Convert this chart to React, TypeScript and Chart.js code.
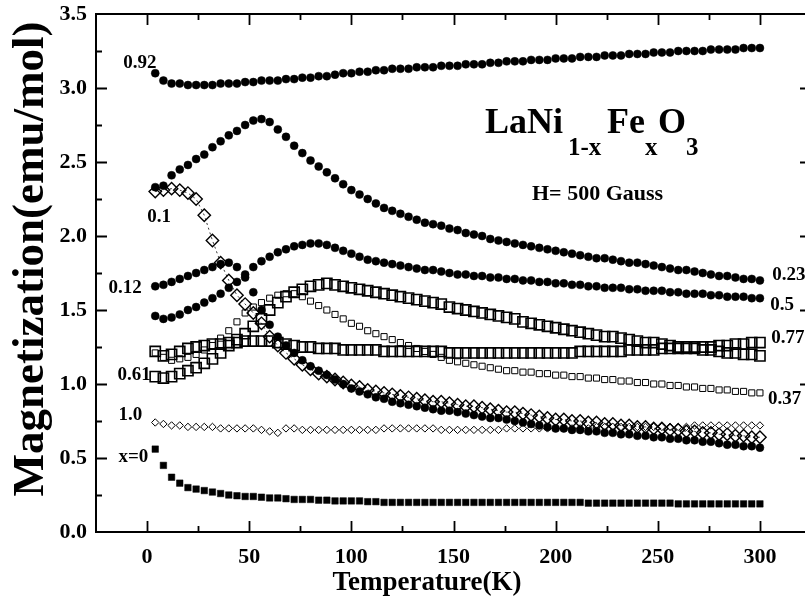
import React, { useEffect, useRef } from "react";
import { Chart, registerables } from "chart.js";

Chart.register(...registerables);

// Temperature (K) at which each series is read
const TEMPS = [
  4, 8, 12, 16, 20, 24, 28, 32, 36, 40,
  44, 48, 52, 56, 60, 64, 68, 72, 76, 80,
  84, 88, 92, 96, 100, 104, 108, 112, 116, 120,
  124, 128, 132, 136, 140, 144, 148, 152, 156, 160,
  164, 168, 172, 176, 180, 184, 188, 192, 196, 200,
  204, 208, 212, 216, 220, 224, 228, 232, 236, 240,
  244, 248, 252, 256, 260, 264, 268, 272, 276, 280,
  284, 288, 292, 296, 300,
];

// Magnetization (emu/mol) for each composition x
const M_X092 = [
  3.10, 3.05, 3.03, 3.03, 3.02, 3.02, 3.02, 3.02, 3.03, 3.03,
  3.03, 3.04, 3.04, 3.05, 3.05, 3.05, 3.06, 3.06, 3.07, 3.07,
  3.08, 3.08, 3.09, 3.10, 3.10, 3.11, 3.11, 3.12, 3.12, 3.13,
  3.13, 3.13, 3.14, 3.14, 3.14, 3.15, 3.15, 3.15, 3.16, 3.16,
  3.16, 3.17, 3.17, 3.18, 3.18, 3.18, 3.19, 3.19, 3.19, 3.20,
  3.20, 3.20, 3.21, 3.21, 3.21, 3.22, 3.22, 3.22, 3.23, 3.23,
  3.23, 3.24, 3.24, 3.24, 3.25, 3.25, 3.25, 3.25, 3.26, 3.26,
  3.26, 3.26, 3.27, 3.27, 3.27,
];
const M_X023 = [
  2.33, 2.34, 2.41, 2.45, 2.48, 2.52, 2.55, 2.60, 2.64, 2.68,
  2.71, 2.75, 2.78, 2.79, 2.77, 2.72, 2.67, 2.61, 2.56, 2.51,
  2.47, 2.43, 2.39, 2.35, 2.31, 2.28, 2.25, 2.22, 2.19, 2.17,
  2.15, 2.13, 2.11, 2.09, 2.08, 2.07, 2.05, 2.04, 2.02, 2.01,
  2.00, 1.98, 1.97, 1.96, 1.95, 1.94, 1.93, 1.92, 1.91, 1.90,
  1.89, 1.88, 1.87, 1.86, 1.85, 1.85, 1.84, 1.83, 1.82, 1.82,
  1.81, 1.80, 1.79, 1.78, 1.77, 1.77, 1.76, 1.75, 1.74, 1.73,
  1.73, 1.72, 1.71, 1.71, 1.70,
];
const M_X05 = [
  1.46, 1.44, 1.45, 1.47, 1.50, 1.52, 1.55, 1.58, 1.61, 1.65,
  1.69, 1.74, 1.79, 1.83, 1.86, 1.89, 1.91, 1.93, 1.94, 1.95,
  1.95, 1.94, 1.92, 1.90, 1.88, 1.86, 1.84, 1.83, 1.82, 1.81,
  1.80, 1.79, 1.78, 1.77, 1.77, 1.76, 1.75, 1.74, 1.74, 1.73,
  1.73, 1.72, 1.72, 1.71, 1.71, 1.70, 1.70, 1.69, 1.69, 1.68,
  1.68, 1.67, 1.67, 1.66, 1.66, 1.65, 1.65, 1.65, 1.64, 1.64,
  1.63, 1.63, 1.63, 1.62, 1.62, 1.61, 1.61, 1.61, 1.60, 1.60,
  1.59, 1.59, 1.59, 1.58, 1.58,
];
const M_X012 = [
  1.66, 1.67, 1.69, 1.71, 1.73, 1.75, 1.77, 1.79, 1.81, 1.82,
  1.79, 1.72, 1.62, 1.50, 1.40, 1.32, 1.26, 1.21, 1.16, 1.12,
  1.09, 1.06, 1.03, 1.00, 0.97, 0.95, 0.93, 0.91, 0.90, 0.88,
  0.87, 0.86, 0.85, 0.84, 0.83, 0.82, 0.82, 0.81, 0.80, 0.79,
  0.78, 0.77, 0.77, 0.76, 0.75, 0.74, 0.73, 0.72, 0.71, 0.70,
  0.70, 0.69, 0.69, 0.68, 0.68, 0.67, 0.67, 0.66, 0.66, 0.65,
  0.65, 0.64, 0.64, 0.63, 0.63, 0.62, 0.62, 0.61, 0.61, 0.60,
  0.59, 0.59, 0.58, 0.58, 0.57,
];
const M_X01 = [
  2.30, 2.31, 2.32, 2.31, 2.29, 2.25, 2.14, 1.97, 1.82, 1.70,
  1.60, 1.54, 1.48, 1.41, 1.32, 1.26, 1.21, 1.17, 1.13, 1.10,
  1.07, 1.05, 1.03, 1.01, 0.99, 0.98, 0.96, 0.95, 0.94, 0.93,
  0.92, 0.91, 0.90, 0.89, 0.88, 0.88, 0.87, 0.86, 0.85, 0.85,
  0.84, 0.83, 0.82, 0.81, 0.81, 0.80, 0.79, 0.78, 0.77, 0.76,
  0.76, 0.75, 0.75, 0.74, 0.74, 0.73, 0.73, 0.72, 0.72, 0.71,
  0.71, 0.70, 0.70, 0.69, 0.69, 0.68, 0.68, 0.67, 0.67, 0.66,
  0.66, 0.65, 0.65, 0.64, 0.64,
];
const M_X10 = [
  0.74, 0.73, 0.72, 0.72, 0.71, 0.71, 0.71, 0.71, 0.70, 0.70,
  0.70, 0.70, 0.70, 0.69, 0.68, 0.67, 0.70, 0.70, 0.69, 0.69,
  0.69, 0.69, 0.69, 0.69, 0.69, 0.69, 0.69, 0.69, 0.70, 0.70,
  0.70, 0.70, 0.70, 0.70, 0.70, 0.69, 0.69, 0.69, 0.69, 0.69,
  0.69, 0.69, 0.69, 0.70, 0.70, 0.70, 0.70, 0.70, 0.70, 0.70,
  0.70, 0.70, 0.70, 0.70, 0.71, 0.71, 0.71, 0.71, 0.71, 0.71,
  0.71, 0.71, 0.71, 0.71, 0.71, 0.71, 0.72, 0.72, 0.72, 0.72,
  0.72, 0.72, 0.72, 0.72, 0.72,
];
const M_X061 = [
  1.05, 1.04, 1.05, 1.07, 1.09, 1.11, 1.14, 1.17, 1.21, 1.26,
  1.30, 1.34, 1.39, 1.44, 1.50, 1.55, 1.59, 1.62, 1.64, 1.66,
  1.67, 1.68, 1.67, 1.66, 1.65, 1.64, 1.63, 1.62, 1.61, 1.60,
  1.59, 1.58, 1.57, 1.56, 1.55, 1.54, 1.52, 1.51, 1.50, 1.49,
  1.48, 1.47, 1.46, 1.45, 1.44, 1.42, 1.41, 1.40, 1.39, 1.38,
  1.37, 1.36, 1.35, 1.34, 1.33, 1.32, 1.32, 1.31, 1.30, 1.29,
  1.28, 1.28, 1.27, 1.26, 1.25, 1.25, 1.24, 1.23, 1.23, 1.22,
  1.21, 1.21, 1.20, 1.20, 1.19,
];
const M_X077 = [
  1.22, 1.19, 1.20, 1.22, 1.24, 1.25, 1.26, 1.27, 1.27, 1.28,
  1.28, 1.29, 1.29, 1.29, 1.29, 1.28, 1.27, 1.26, 1.25, 1.25,
  1.24, 1.24, 1.24, 1.23, 1.23, 1.23, 1.23, 1.23, 1.22, 1.22,
  1.22, 1.22, 1.22, 1.22, 1.22, 1.22, 1.21, 1.21, 1.21, 1.21,
  1.21, 1.21, 1.21, 1.21, 1.21, 1.21, 1.21, 1.21, 1.21, 1.21,
  1.21, 1.21, 1.22, 1.22, 1.22, 1.22, 1.22, 1.22, 1.23, 1.23,
  1.23, 1.23, 1.24, 1.24, 1.24, 1.24, 1.25, 1.25, 1.25, 1.26,
  1.26, 1.27, 1.27, 1.28, 1.28,
];
const M_X037 = [
  1.21, 1.18, 1.16, 1.17, 1.18, 1.20, 1.23, 1.26, 1.31, 1.36,
  1.42, 1.48, 1.52, 1.55, 1.58, 1.60, 1.61, 1.61, 1.59, 1.56,
  1.53, 1.50, 1.47, 1.44, 1.41, 1.39, 1.36, 1.34, 1.32, 1.30,
  1.28, 1.26, 1.24, 1.22, 1.20, 1.18, 1.16, 1.15, 1.14, 1.13,
  1.12, 1.11, 1.10, 1.09, 1.09, 1.08, 1.08, 1.07, 1.07, 1.06,
  1.06, 1.05, 1.05, 1.04, 1.04, 1.03, 1.03, 1.02, 1.02, 1.01,
  1.01, 1.00, 1.00, 0.99, 0.99, 0.98, 0.98, 0.97, 0.97, 0.96,
  0.96, 0.95, 0.95, 0.94, 0.94,
];
const M_X0 = [
  0.56, 0.45, 0.37, 0.33, 0.30, 0.29, 0.28, 0.27, 0.26, 0.25,
  0.245, 0.24, 0.24, 0.235, 0.23, 0.23, 0.225, 0.22, 0.22, 0.22,
  0.215, 0.215, 0.21, 0.21, 0.21, 0.21, 0.205, 0.205, 0.20, 0.20,
  0.20, 0.20, 0.20, 0.20, 0.20, 0.20, 0.20, 0.20, 0.20, 0.20,
  0.20, 0.20, 0.20, 0.20, 0.20, 0.20, 0.20, 0.20, 0.20, 0.20,
  0.20, 0.20, 0.20, 0.195, 0.195, 0.195, 0.195, 0.195, 0.195, 0.195,
  0.195, 0.195, 0.195, 0.195, 0.19, 0.19, 0.19, 0.19, 0.19, 0.19,
  0.19, 0.19, 0.19, 0.19, 0.19,
];

const X_TICKS = [0, 50, 100, 150, 200, 250, 300];
const Y_TICKS = [0, 0.5, 1.0, 1.5, 2.0, 2.5, 3.0, 3.5];

// Curve labels: [text, temperature, magnetization]
const CURVE_LABELS: [string, number, number][] = [
  ["0.92", -11.6, 3.17],
  ["0.1", 0.1, 2.13],
  ["0.12", -18.9, 1.65],
  ["0.61", -14.5, 1.06],
  ["1.0", -14, 0.79],
  ["x=0", -14, 0.505],
  ["0.23", 306, 1.735],
  ["0.5", 305, 1.53],
  ["0.77", 305.5, 1.31],
  ["0.37", 304, 0.895],
];

const SERIF = '"Liberation Serif", "Times New Roman", Times, serif';

export default function App() {
  const ref = useRef<HTMLCanvasElement>(null);

  useEffect(() => {
    const canvas = ref.current;
    if (!canvas) return;
    const pts = (vals: number[]) => TEMPS.map((t, i) => ({ x: t, y: vals[i] }));

    const filledCircle = { pointStyle: "circle", pointRadius: 4, pointBackgroundColor: "#000", pointBorderColor: "#000", pointBorderWidth: 0.5 };
    const openBigSquare = { pointStyle: "rect", pointRadius: 7.2, pointBackgroundColor: "rgba(0,0,0,0)", pointBorderColor: "#000", pointBorderWidth: 1.6 };
    const openSmallSquare = { pointStyle: "rect", pointRadius: 4.3, pointBackgroundColor: "rgba(0,0,0,0)", pointBorderColor: "#000", pointBorderWidth: 1 };
    const openBigDiamond = { pointStyle: "rectRot", pointRadius: 6.2, pointBackgroundColor: "rgba(0,0,0,0)", pointBorderColor: "#000", pointBorderWidth: 1.4 };
    const openSmallDiamond = { pointStyle: "rectRot", pointRadius: 3.7, pointBackgroundColor: "rgba(0,0,0,0)", pointBorderColor: "#000", pointBorderWidth: 1 };
    const filledSquare = { pointStyle: "rect", pointRadius: 4.6, pointBackgroundColor: "#000", pointBorderColor: "#000", pointBorderWidth: 0.5 };

    const zeroPad = (s: any) => {
      s.paddingTop = 0; s.paddingBottom = 0; s.paddingLeft = 0; s.paddingRight = 0;
    };

    const frame = {
      id: "frame",
      afterDatasetsDraw(chart: any) {
        const { ctx, chartArea: a, scales } = chart;
        const xs = scales.x, ys = scales.y;
        ctx.save();
        ctx.strokeStyle = "#000";
        ctx.lineWidth = 2;
        ctx.beginPath();
        ctx.rect(a.left, a.top, a.right - a.left, a.bottom - a.top);
        ctx.stroke();
        ctx.lineWidth = 1.8;
        ctx.beginPath();
        for (let v = 0; v <= 300; v += 25) {
          const px = Math.round(xs.getPixelForValue(v)) + 0.5;
          const len = v % 50 === 0 ? 11 : 6;
          ctx.moveTo(px, a.bottom); ctx.lineTo(px, a.bottom - len);
          ctx.moveTo(px, a.top); ctx.lineTo(px, a.top + len);
        }
        for (let k = 1; k <= 13; k++) {
          const v = k * 0.25;
          const py = Math.round(ys.getPixelForValue(v)) + 0.5;
          const len = k % 2 === 0 ? 11 : 6;
          ctx.moveTo(a.left, py); ctx.lineTo(a.left + len, py);
          ctx.moveTo(a.right, py); ctx.lineTo(a.right - len, py);
        }
        ctx.stroke();

        ctx.fillStyle = "#000";
        ctx.font = `bold 19px ${SERIF}`;
        ctx.textBaseline = "middle";
        ctx.textAlign = "left";
        for (const [txt, t, m] of CURVE_LABELS) {
          ctx.fillText(txt, xs.getPixelForValue(t), ys.getPixelForValue(m));
        }

        // formula title
        ctx.textBaseline = "alphabetic";
        const big = `bold 36px ${SERIF}`;
        const sub = `bold 25px ${SERIF}`;
        ctx.font = big; ctx.fillText("LaNi", 485, 133);
        ctx.font = sub; ctx.fillText("1-x", 568, 155);
        ctx.font = big; ctx.fillText("Fe", 607, 133);
        ctx.font = sub; ctx.fillText("x", 645, 155);
        ctx.font = big; ctx.fillText("O", 658, 133);
        ctx.font = sub; ctx.fillText("3", 686, 155);
        ctx.font = `bold 22px ${SERIF}`;
        ctx.fillText("H= 500 Gauss", 532, 200);

        // axis titles
        ctx.font = `bold 27px ${SERIF}`;
        ctx.textAlign = "center";
        ctx.fillText("Temperature(K)", 427, 590);
        ctx.save();
        ctx.translate(43, 259);
        ctx.rotate(-Math.PI / 2);
        ctx.font = `bold 45px ${SERIF}`;
        ctx.fillText("Magnetization(emu/mol)", 0, 0);
        ctx.restore();
        ctx.restore();
      },
    };

    const chart = new Chart(canvas, {
      type: "scatter",
      data: {
        datasets: [
          { label: "0.1", data: pts(M_X01), ...openBigDiamond, showLine: true, borderColor: "#000", borderWidth: 0.8, borderDash: [2, 3] },
          { label: "0.12", data: pts(M_X012), ...filledCircle },
          { label: "0.61", data: pts(M_X061), ...openBigSquare },
          { label: "0.77", data: pts(M_X077), ...openBigSquare },
          { label: "0.37", data: pts(M_X037), ...openSmallSquare },
          { label: "0.5", data: pts(M_X05), ...filledCircle },
          { label: "0.23", data: pts(M_X023), ...filledCircle },
          { label: "0.92", data: pts(M_X092), ...filledCircle },
          { label: "1.0", data: pts(M_X10), ...openSmallDiamond },
          { label: "x=0", data: pts(M_X0), ...filledSquare },
        ] as any,
      },
      options: {
        responsive: false,
        animation: false,
        devicePixelRatio: 1,
        layout: { autoPadding: false, padding: { left: 0, top: 14, right: 1, bottom: 0 } },
        plugins: { legend: { display: false }, tooltip: { enabled: false } },
        scales: {
          x: {
            type: "linear",
            min: -25,
            max: 325,
            grid: { display: false, drawTicks: false },
            border: { display: false },
            afterBuildTicks: (s: any) => { s.ticks = X_TICKS.map((v) => ({ value: v })); },
            afterFit: (s: any) => { s.height = 79; zeroPad(s); },
            ticks: {
              color: "#000",
              padding: 12,
              maxRotation: 0,
              font: { family: SERIF, size: 22, weight: "bold" },
              callback: (v: any) => String(v),
            },
          },
          y: {
            type: "linear",
            min: 0,
            max: 3.5,
            grid: { display: false, drawTicks: false },
            border: { display: false },
            afterBuildTicks: (s: any) => { s.ticks = Y_TICKS.map((v) => ({ value: v })); },
            afterFit: (s: any) => { s.width = 96; zeroPad(s); },
            ticks: {
              color: "#000",
              padding: 9,
              font: { family: SERIF, size: 22, weight: "bold" },
              callback: (v: any) => Number(v).toFixed(1),
            },
          },
        },
      } as any,
      plugins: [frame],
    });
    return () => chart.destroy();
  }, []);

  return (
    <div style={{ position: "absolute", left: 0, top: 0, width: 805, height: 611, overflow: "hidden", background: "#fff" }}>
      <canvas ref={ref} width={812} height={611} style={{ display: "block" }} />
    </div>
  );
}
